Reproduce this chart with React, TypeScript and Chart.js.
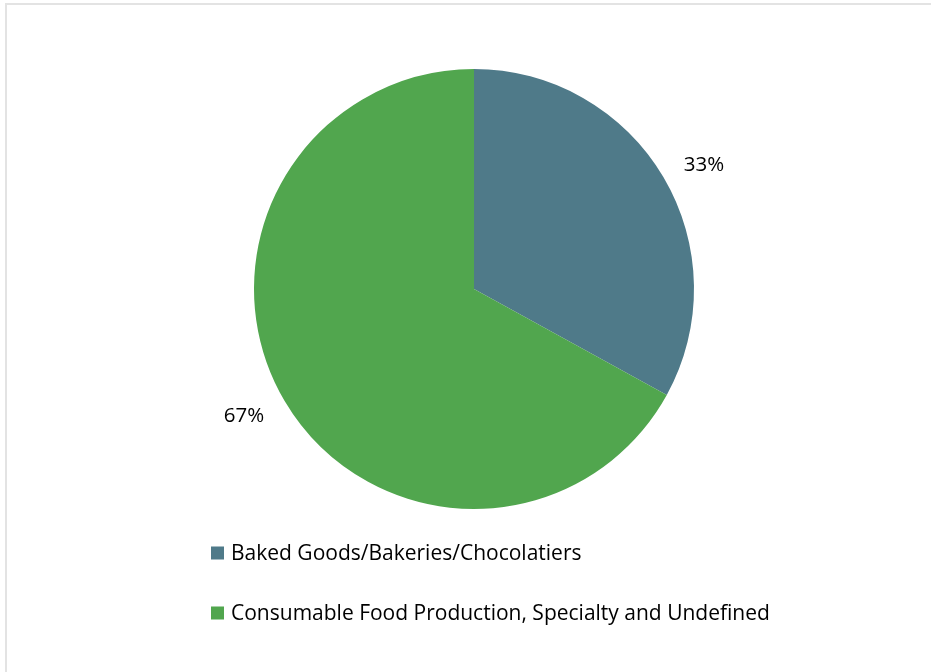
import React, { useEffect, useRef } from "react";
import { Chart, registerables } from "chart.js";

Chart.register(...registerables);

const categories = [
  "Baked Goods/Bakeries/Chocolatiers",
  "Consumable Food Production, Specialty and Undefined",
];
const shares = [33, 67];
const percentLabels = ["33%", "67%"];
const colors = ["#4f7a89", "#51a64e"];

const FONT = "'Open Sans', sans-serif";

const labelPlugin = {
  id: "outerLabels",
  afterDraw(chart: any) {
    const ctx = chart.ctx;
    const meta = chart.getDatasetMeta(0);
    ctx.save();
    ctx.fillStyle = "#000";
    ctx.font = `20.5px ${FONT}`;
    ctx.textAlign = "center";
    ctx.textBaseline = "middle";
    meta.data.forEach((arc: any, i: number) => {
      const mid = (arc.startAngle + arc.endAngle) / 2 + 0.035;
      const r = arc.outerRadius + 42;
      const x = arc.x + Math.cos(mid) * r;
      const y = arc.y + Math.sin(mid) * r + 2;
      ctx.fillText(percentLabels[i], x, y);
    });
    // legend
    const lx = 211;
    const ys = [553, 613];
    ctx.textAlign = "left";
    ctx.font = `21px ${FONT}`;
    chart.data.labels.forEach((lab: string, i: number) => {
      ctx.fillStyle = chart.data.datasets[0].backgroundColor[i];
      ctx.fillRect(lx, ys[i] - 6.5, 13, 13);
      ctx.fillStyle = "#000";
      ctx.fillText(lab, lx + 20, ys[i] + 1);
    });
    ctx.restore();
  },
};

export default function App() {
  const ref = useRef<HTMLCanvasElement>(null);
  useEffect(() => {
    document.body.style.margin = "0";
    const chart = new Chart(ref.current!, {
      type: "pie",
      data: {
        labels: categories,
        datasets: [
          {
            data: shares,
            backgroundColor: colors,
            borderWidth: 0,
          },
        ],
      },
      options: {
        animation: false,
        responsive: false,
        layout: { padding: { top: 69, bottom: 163, left: 254, right: 237 } },
        plugins: { legend: { display: false }, tooltip: { enabled: false } },
      },
      plugins: [labelPlugin],
    });
    return () => chart.destroy();
  }, []);
  return (
    <div style={{ position: "relative", width: 931, height: 672, background: "#fff", overflow: "hidden" }}>
      <div
        style={{
          position: "absolute",
          left: 5,
          top: 3,
          width: 1000,
          height: 1000,
          border: "2px solid #e3e3e3",
          boxSizing: "border-box",
        }}
      />
      <canvas ref={ref} width={931} height={672} style={{ position: "absolute", left: 0, top: 0 }} />
    </div>
  );
}
